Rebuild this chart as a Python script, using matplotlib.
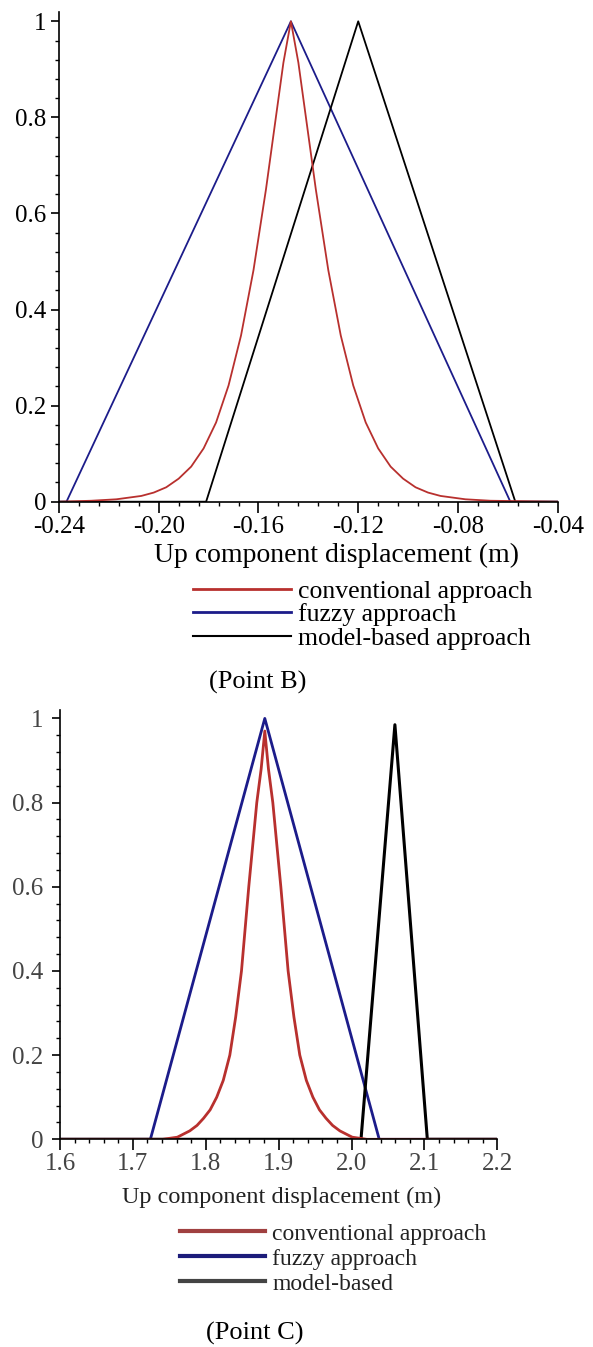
import matplotlib
matplotlib.use("Agg")
import matplotlib.pyplot as plt
from matplotlib.ticker import MultipleLocator, FixedLocator

plt.rcParams['font.family'] = ['Liberation Serif', 'DejaVu Serif']

W, H = 593, 1347

# ---------------- data: Point B ----------------
b_conv_x = [-0.24, -0.227, -0.217, -0.207, -0.202, -0.197, -0.192, -0.187, -0.182, -0.177,
            -0.172, -0.167, -0.162, -0.157, -0.153, -0.150, -0.147, -0.144, -0.141, -0.137,
            -0.132, -0.127, -0.122, -0.117, -0.112, -0.107, -0.102, -0.097, -0.092, -0.087,
            -0.077, -0.067, -0.04]
b_conv_y = [0, 0.002, 0.005, 0.012, 0.019, 0.030, 0.048, 0.073, 0.111, 0.165,
            0.242, 0.346, 0.482, 0.650, 0.801, 0.914, 1.0, 0.914, 0.801, 0.650,
            0.482, 0.346, 0.242, 0.165, 0.111, 0.073, 0.048, 0.030, 0.019, 0.012,
            0.005, 0.002, 0]
b_fuzzy_x = [-0.24, -0.237, -0.147, -0.059, -0.04]
b_fuzzy_y = [0, 0, 1.0, 0, 0]
b_model_x = [-0.24, -0.181, -0.12, -0.057, -0.04]
b_model_y = [0, 0, 1.0, 0, 0]
b_xticks = [-0.24, -0.20, -0.16, -0.12, -0.08, -0.04]
b_xticklabels = ["-0.24", "-0.20", "-0.16", "-0.12", "-0.08", "-0.04"]
b_labels = ["conventional approach", "fuzzy approach", "model-based approach"]

# ---------------- data: Point C ----------------
c_conv_x = [1.6, 1.741, 1.761, 1.778, 1.788, 1.797, 1.806, 1.815, 1.824, 1.833, 1.841,
            1.849, 1.859, 1.870, 1.876, 1.881, 1.886, 1.892, 1.903, 1.913, 1.921,
            1.929, 1.938, 1.947, 1.956, 1.965, 1.974, 1.984, 2.001, 2.021, 2.2]
c_conv_y = [0, 0, 0.005, 0.02, 0.033, 0.05, 0.07, 0.1, 0.14, 0.2, 0.29,
            0.4, 0.6, 0.8, 0.88, 0.97, 0.88, 0.8, 0.6, 0.4, 0.29,
            0.2, 0.14, 0.1, 0.07, 0.05, 0.033, 0.02, 0.005, 0, 0]
c_fuzzy_x = [1.6, 1.724, 1.881, 2.038, 2.2]
c_fuzzy_y = [0, 0, 1.0, 0, 0]
c_model_x = [1.6, 2.013, 2.0595, 2.104, 2.2]
c_model_y = [0, 0, 0.985, 0, 0]
c_xticks = [1.6, 1.7, 1.8, 1.9, 2.0, 2.1, 2.2]
c_xticklabels = ["1.6", "1.7", "1.8", "1.9", "2.0", "2.1", "2.2"]
c_labels = ["conventional approach", "fuzzy approach", "model-based"]

yticks = [0, 0.2, 0.4, 0.6, 0.8, 1.0]
yticklabels = ["0", "0.2", "0.4", "0.6", "0.8", "1"]

RED = "#b8302e"
BLUE = "#1c1c8a"
BLACK = "#000000"

fig = plt.figure(figsize=(W / 100, H / 100), dpi=100)


def fx(px):
    return px / W


def fy(py):
    return 1 - py / H


def style_axes(ax, xlim, xticks, xticklabels, xminor, color, fs, xpad, ypad):
    ax.set_xlim(*xlim)
    ax.set_ylim(0, 1.02)
    for s in ("top", "right"):
        ax.spines[s].set_visible(False)
    for s in ("left", "bottom"):
        ax.spines[s].set_linewidth(1.2)
        ax.spines[s].set_color("black")
    ax.xaxis.set_major_locator(FixedLocator(xticks))
    ax.set_xticklabels(xticklabels)
    ax.xaxis.set_minor_locator(MultipleLocator(xminor))
    ax.yaxis.set_major_locator(FixedLocator(yticks))
    ax.set_yticklabels(yticklabels)
    ax.yaxis.set_minor_locator(MultipleLocator(0.04))
    ax.tick_params(axis="x", which="major", length=8, width=1.2, labelsize=fs,
                   labelcolor=color, pad=xpad)
    ax.tick_params(axis="y", which="major", length=6, width=1.2, labelsize=fs,
                   labelcolor=color, pad=ypad)
    ax.tick_params(which="minor", length=3, width=1.0)
    ax.set_facecolor("none")


# ---------------- Point B panel ----------------
ax1 = fig.add_axes([fx(59), fy(501.7), (557.7 - 59) / W, (501.7 - 11.7) / H])
lb_f, = ax1.plot(b_fuzzy_x, b_fuzzy_y, color=BLUE, lw=1.3, label=b_labels[1])
lb_m, = ax1.plot(b_model_x, b_model_y, color=BLACK, lw=1.3, label=b_labels[2])
lb_c, = ax1.plot(b_conv_x, b_conv_y, color=RED, lw=1.3, label=b_labels[0])
style_axes(ax1, (-0.24, -0.04), b_xticks, b_xticklabels, 0.008, "black", 18, 2, 3)
fig.text(fx(337), fy(555), "Up component displacement (m)", ha="center", va="center",
         fontsize=20)
leg1 = fig.legend([lb_c, lb_f, lb_m], b_labels, loc="upper left",
                  bbox_to_anchor=(fx(193), fy(580)), frameon=False, fontsize=18.5,
                  borderpad=0, borderaxespad=0, handlelength=3.8, handletextpad=0.3,
                  labelspacing=0.02)
for h in leg1.legend_handles:
    h.set_linewidth(2.0)
leg1.legend_handles[2].set_linewidth(1.5)
fig.text(fx(258), fy(682), "(Point B)", ha="center", va="center", fontsize=19)

# ---------------- Point C panel ----------------
ax2 = fig.add_axes([fx(60), fy(1139.3), (497.3 - 60) / W, (1139.3 - 710) / H])
lc_f, = ax2.plot(c_fuzzy_x, c_fuzzy_y, color=BLUE, lw=2.0, label=c_labels[1])
lc_m, = ax2.plot(c_model_x, c_model_y, color=BLACK, lw=2.2, label=c_labels[2])
lc_c, = ax2.plot(c_conv_x, c_conv_y, color=RED, lw=2.0, label=c_labels[0])
style_axes(ax2, (1.6, 2.2), c_xticks, c_xticklabels, 0.02, "#444444", 18, 2, 6)
fig.text(fx(282), fy(1197), "Up component displacement (m)", ha="center", va="center",
         fontsize=17.5, color="#222222")
leg2 = fig.legend([lc_c, lc_f, lc_m], c_labels, loc="upper left",
                  bbox_to_anchor=(fx(180), fy(1223)), frameon=False, fontsize=17,
                  borderpad=0, borderaxespad=0, handlelength=3.6, handletextpad=0.3,
                  labelspacing=0.15)
for h, col in zip(leg2.legend_handles, ["#a04040", "#1c1c7a", "#444444"]):
    h.set_linewidth(3.0)
    h.set_color(col)
for t in leg2.get_texts():
    t.set_color("#222222")
fig.text(fx(255), fy(1333), "(Point C)", ha="center", va="center", fontsize=19)

fig.savefig("out.png", dpi=100)
